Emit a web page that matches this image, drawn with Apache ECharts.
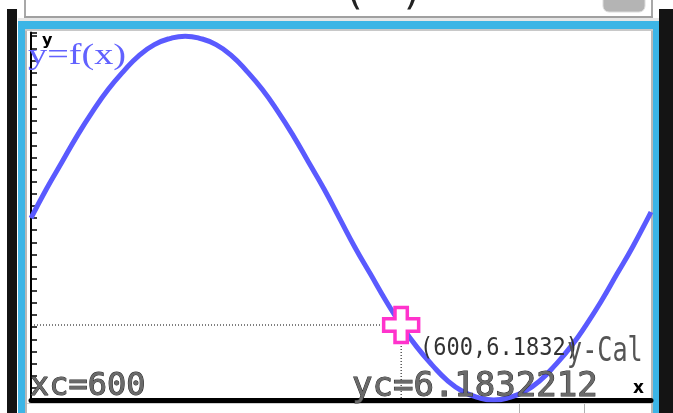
<!DOCTYPE html>
<html>
<head>
<meta charset="utf-8">
<style>
html,body{margin:0;padding:0;background:#fff;overflow:hidden;}
#chart{width:673px;height:413px;}
</style>
<script src="https://cdn.jsdelivr.net/npm/echarts@6/dist/echarts.min.js"></script>
</head>
<body>
<div id="chart"></div>
<script>
// Curve readings y = f(x) from the screen
const xValues = [0,25,50,75,100,125,150,175,200,225,250,275,300,325,350,375,400,425,450,475,500,525,550,575,600,625,650,675,700,725,750,775,800,825,850,875,900,925,950,975,1000,1005];
const yValues = [15,17.4,19.6,21.8,23.8,25.6,27.1,28.4,29.3,29.8,30,29.8,29.3,28.4,27.1,25.6,23.8,21.8,19.6,17.4,15,12.6,10.4,8.2,6.18,4.4,2.9,1.6,0.7,0.2,0,0.2,0.7,1.6,2.9,4.4,6.2,8.2,10.4,12.6,15,15.5];
const cursorPoint = [600, 6.1832];
const xcText = 'xc=600';
const ycText = 'yc=6.1832212';
const pointText = '(600,6.1832)';
const funcText = 'y=f(x)';
const calText = 'y-Cal';

const curve = xValues.map((x, i) => [x, yValues[i]]);

const chart = echarts.init(document.getElementById('chart'), null, {renderer: 'canvas'});
const frameBlue = '#3cb5e6';
const option = {
  animation: false,
  backgroundColor: '#fff',
  grid: {left: 31, right: 22, top: 32.5, bottom: 13, containLabel: false},
  xAxis: {
    type: 'value', min: 0, max: 1005,
    axisLine: {show: true, onZero: true, lineStyle: {color: '#000', width: 5}},
    axisTick: {show: false}, axisLabel: {show: false}, splitLine: {show: false}
  },
  yAxis: {
    type: 'value', min: 0, max: 30.3, interval: 1,
    axisLine: {show: true, onZero: true, lineStyle: {color: '#000', width: 2}},
    axisTick: {show: true, inside: true, length: 6, lineStyle: {color: '#000', width: 1.5}},
    axisLabel: {show: false}, splitLine: {show: false}
  },
  series: [
    {
      type: 'line', data: [[0, cursorPoint[1]], [cursorPoint[0], cursorPoint[1]]],
      symbol: 'none', lineStyle: {color: '#000', width: 1, type: [1, 2]}, z: 2, silent: true
    },
    {
      type: 'line', data: [[cursorPoint[0], cursorPoint[1]], [cursorPoint[0], 0]],
      symbol: 'none', lineStyle: {color: '#000', width: 1, type: [1, 2]}, z: 2, silent: true
    },
    {
      type: 'line', data: curve, smooth: true, symbol: 'none',
      lineStyle: {color: '#5a5aff', width: 5}, z: 3, clip: true
    },
    {
      type: 'scatter', data: [cursorPoint],
      symbol: 'path://M12,0 H25 V12 H37 V25 H25 V37 H12 V25 H0 V12 H12 Z',
      symbolSize: 35,
      itemStyle: {color: '#fff', borderColor: '#ff33cc', borderWidth: 3.5, opacity: 1},
      z: 6
    }
  ],
  graphic: [
    // frame
    {type: 'rect', shape: {x: 7, y: 9, width: 10, height: 404}, style: {fill: '#141414'}, z: 0},
    {type: 'rect', shape: {x: 659, y: 9, width: 14, height: 404}, style: {fill: '#141414'}, z: 0},
    {type: 'rect', shape: {x: 18, y: 21, width: 7, height: 392}, style: {fill: frameBlue}, z: 0},
    {type: 'rect', shape: {x: 653, y: 21, width: 6, height: 392}, style: {fill: frameBlue}, z: 0},
    {type: 'rect', shape: {x: 18, y: 21, width: 641, height: 8}, style: {fill: frameBlue}, z: 0},
    {type: 'rect', shape: {x: 25, y: 29, width: 2, height: 384}, style: {fill: '#b8b8b8'}, z: 0},
    {type: 'rect', shape: {x: 651, y: 29, width: 2, height: 384}, style: {fill: '#b8b8b8'}, z: 0},
    {type: 'rect', shape: {x: 25, y: 29, width: 628, height: 2}, style: {fill: '#c8c8c8'}, z: 0},
    // top box
    {type: 'rect', shape: {x: 24, y: 0, width: 2, height: 18}, style: {fill: '#a8a8a8'}, z: 0},
    {type: 'rect', shape: {x: 651, y: 0, width: 2, height: 18}, style: {fill: '#a8a8a8'}, z: 0},
    {type: 'rect', shape: {x: 24, y: 16, width: 629, height: 2}, style: {fill: '#a0a0a0'}, z: 0},
    {type: 'rect', shape: {x: 18, y: 18, width: 641, height: 3}, style: {fill: '#e6e6e6'}, z: 0},
    {type: 'rect', shape: {x: 603, y: -8, width: 42, height: 20, r: 6}, style: {fill: '#b4b4b4', stroke: '#dcdcdc', lineWidth: 1}, z: 0},
    {type: 'text', x: 347, y: -26, style: {text: '(', font: '40px "DejaVu Sans"', fill: '#222'}, z: 1},
    {type: 'text', x: 404, y: -26, style: {text: ')', font: '40px "DejaVu Sans"', fill: '#222'}, z: 1},
    // bottom strip
    {type: 'rect', shape: {x: 27, y: 403, width: 624, height: 1}, style: {fill: '#cfcfcf'}, z: 0},
    {type: 'rect', shape: {x: 519, y: 404, width: 1, height: 9}, style: {fill: '#b0b0b0'}, z: 0},
    {type: 'rect', shape: {x: 584, y: 404, width: 1, height: 9}, style: {fill: '#b0b0b0'}, z: 0},
    // texts
    {type: 'text', x: 28, y: 42, style: {text: funcText, font: '29px "Liberation Serif"', fill: '#6262ff'}, scaleX: 1.32, z: 2},
    {type: 'text', x: 42, y: 33, style: {text: 'y', font: 'bold 16px "DejaVu Sans"', fill: '#000'}, z: 2},
    {type: 'text', x: 30, y: 371, style: {text: xcText, font: '32px "DejaVu Sans Mono"', fill: '#6a6a6a', stroke: '#2a2a2a', lineWidth: 1}, z: 8},
    {type: 'text', x: 352, y: 370, style: {text: ycText, font: '34px "DejaVu Sans Mono"', fill: '#6a6a6a', stroke: '#2a2a2a', lineWidth: 1}, z: 8},
    {type: 'text', x: 420, y: 337, style: {text: pointText, font: '22px "DejaVu Sans Mono"', fill: '#333'}, scaleY: 1.1, z: 8},
    {type: 'text', x: 567, y: 335, style: {text: calText, font: '34px "DejaVu Sans Mono"', fill: '#555'}, scaleX: 0.74, z: 8},
    {type: 'text', x: 633, y: 380, style: {text: 'x', font: 'bold 17px "DejaVu Sans"', fill: '#000'}, z: 8}
  ]
};
chart.setOption(option);
</script>
</body>
</html>
